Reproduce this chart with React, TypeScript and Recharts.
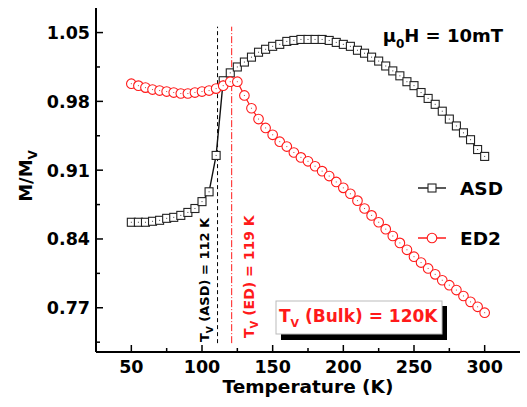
import { LineChart, Line, XAxis, YAxis, ReferenceLine } from "recharts";

const temps = [
  50, 55, 60, 65, 70, 75, 80, 85, 90, 95, 100, 105, 110, 115, 120, 125, 130,
  135, 140, 145, 150, 155, 160, 165, 170, 175, 180, 185, 190, 195, 200, 205,
  210, 215, 220, 225, 230, 235, 240, 245, 250, 255, 260, 265, 270, 275, 280,
  285, 290, 295, 300,
];

const asd = [
  0.857, 0.857, 0.857, 0.858, 0.859, 0.861, 0.862, 0.864, 0.867, 0.871, 0.878,
  0.888, 0.925, 1.001, 1.009, 1.015, 1.02, 1.025, 1.03, 1.033, 1.036, 1.038,
  1.041, 1.042, 1.043, 1.043, 1.043, 1.043, 1.042, 1.04, 1.038, 1.036, 1.032,
  1.029, 1.025, 1.021, 1.016, 1.011, 1.006, 1.0, 0.996, 0.989, 0.983, 0.977,
  0.97, 0.962, 0.955, 0.948, 0.941, 0.931, 0.924,
];

const ed2 = [
  0.998, 0.996, 0.994, 0.992, 0.991, 0.99, 0.989, 0.988, 0.988, 0.989, 0.99,
  0.991, 0.993, 0.996, 1.0, 1.0, 0.986, 0.973, 0.962, 0.953, 0.946, 0.939,
  0.934, 0.928, 0.923, 0.919, 0.914, 0.909, 0.904, 0.898, 0.892, 0.886, 0.879,
  0.871, 0.864, 0.857, 0.85, 0.843, 0.836, 0.829, 0.822, 0.816, 0.81, 0.804,
  0.798, 0.793, 0.788, 0.782, 0.776, 0.771, 0.765,
];

const xTicks = [50, 75, 100, 125, 150, 175, 200, 225, 250, 275, 300];
const xMajor = [50, 100, 150, 200, 250, 300];
const yTicks = [0.735, 0.77, 0.805, 0.84, 0.875, 0.91, 0.945, 0.98, 1.015, 1.05];
const yMajor = [0.77, 0.84, 0.91, 0.98, 1.05];

// transition markers (position)
const tvAsd = 111;
const tvEd = 121;
const markerSpan = [0.734, 1.056];

const data = temps.map((t, i) => ({ t, asd: asd[i], ed2: ed2[i] }));

const FONT = "DejaVu Sans";
const RED = "#ff1a1a";

const isMajor = (list: number[], v: number) =>
  list.some(m => Math.abs(m - v) < 1e-6);

function BottomTick(props: any) {
  const { x, y, payload } = props;
  const major = isMajor(xMajor, payload.value);
  return (
    <g>
      <line x1={x} x2={x} y1={y} y2={y - (major ? 7 : 4)} stroke="#000" strokeWidth={1.5} />
      {major && (
        <text x={x} y={y + 21} textAnchor="middle" fontFamily={FONT} fontWeight="bold" fontSize={17.5} fill="#000">
          {payload.value}
        </text>
      )}
    </g>
  );
}

function TopTick(props: any) {
  const { x, y, payload } = props;
  const major = isMajor(xMajor, payload.value);
  return <line x1={x} x2={x} y1={y} y2={y + (major ? 7 : 4)} stroke="#000" strokeWidth={1.5} />;
}

function LeftTick(props: any) {
  const { x, y, payload } = props;
  const major = isMajor(yMajor, payload.value);
  return (
    <g>
      <line x1={x} x2={x + (major ? 7 : 4)} y1={y} y2={y} stroke="#000" strokeWidth={1.5} />
      {major && (
        <text x={x - 6} y={y} dy={6.5} textAnchor="end" fontFamily={FONT} fontWeight="bold" fontSize={17.5} fill="#000">
          {payload.value.toFixed(2)}
        </text>
      )}
    </g>
  );
}

function RightTick(props: any) {
  const { x, y, payload } = props;
  const major = isMajor(yMajor, payload.value);
  return <line x1={x} x2={x - (major ? 7 : 4)} y1={y} y2={y} stroke="#000" strokeWidth={1.5} />;
}

function SquareDot(props: any) {
  const { cx, cy, index } = props;
  return (
    <g key={"s" + index}>
      <rect x={cx - 4} y={cy - 4} width={8} height={8} fill="#fff" stroke="#222" strokeWidth={1.1} />
      <rect x={cx - 0.5} y={cy - 0.5} width={1} height={1} fill="#444" />
    </g>
  );
}

function CircleDot(props: any) {
  const { cx, cy, index } = props;
  return (
    <g key={"c" + index}>
      <circle cx={cx} cy={cy} r={4.8} fill="#fff" stroke={RED} strokeWidth={1.1} />
      <rect x={cx - 0.5} y={cy - 0.5} width={1} height={1} fill="#c44" />
    </g>
  );
}

function Overlay() {
  return (
    <svg
      width={527}
      height={407}
      style={{ position: "absolute", left: 0, top: 0, pointerEvents: "none" }}
      fontFamily={FONT}
      fontWeight="bold"
    >
      {/* axis titles */}
      <text x={308} y={393} textAnchor="middle" fontSize={18.5} fill="#000">
        Temperature (K)
      </text>
      <text transform="translate(32,176) rotate(-90)" textAnchor="middle" fontSize={18} fill="#000">
        M/M<tspan fontSize={12} dy={5}>V</tspan>
      </text>

      {/* field */}
      <text x={503} y={42} textAnchor="end" fontSize={18} fill="#000">
        μ<tspan fontSize={12} dy={6}>0</tspan>
        <tspan dy={-6}>H = 10mT</tspan>
      </text>

      {/* legend */}
      <line x1={418} x2={446} y1={188} y2={188} stroke="#222" strokeWidth={1.5} />
      <rect x={428} y={184} width={8} height={8} fill="#fff" stroke="#222" strokeWidth={1.1} />
      <text x={460} y={195} fontSize={18.5} fill="#000">ASD</text>
      <line x1={418} x2={446} y1={238} y2={238} stroke={RED} strokeWidth={1.5} />
      <circle cx={432} cy={238} r={4.8} fill="#fff" stroke={RED} strokeWidth={1.1} />
      <text x={460} y={245} fontSize={18.5} fill="#000">ED2</text>

      {/* rotated transition labels */}
      <text transform="translate(209,342) rotate(-90)" fontSize={13} fill="#000">
        T<tspan fontSize={9} dy={4}>V</tspan>
        <tspan dy={-4}> (ASD) = 112 K</tspan>
      </text>
      <text transform="translate(254,338) rotate(-90)" fontSize={14} fill={RED}>
        T<tspan fontSize={10} dy={4}>V</tspan>
        <tspan dy={-4}> (ED) = 119 K</tspan>
      </text>

      {/* bulk box */}
      <rect x={281} y={306} width={166} height={34} fill="#000" />
      <rect x={276} y={301} width={166} height={33} fill="#fff" stroke="#bbb" strokeWidth={1} />
      <text x={279} y={322} fontSize={17} fill={RED}>
        T<tspan fontSize={11} dy={5}>V</tspan>
        <tspan dy={-5}> (Bulk) = 120K</tspan>
      </text>
    </svg>
  );
}

export default function App() {
  return (
    <div style={{ position: "absolute", left: 0, top: 0, width: 527, height: 407, background: "#fff" }}>
      <LineChart
        width={527}
        height={407}
        data={data}
        margin={{ top: 8, right: 7, bottom: 0, left: 0 }}
      >
        <XAxis
          dataKey="t"
          type="number"
          domain={[25, 325]}
          ticks={xTicks}
          interval={0}
          height={55}
          tickSize={0}
          tickMargin={0}
          tickLine={false}
          tick={<BottomTick />}
          axisLine={{ stroke: "#000", strokeWidth: 2 }}
          allowDataOverflow
        />
        <XAxis
          xAxisId="top"
          orientation="top"
          dataKey="t"
          type="number"
          domain={[25, 325]}
          ticks={xTicks}
          interval={0}
          height={0}
          tickSize={0}
          tickMargin={0}
          tickLine={false}
          tick={<TopTick />}
          axisLine={{ stroke: "#000", strokeWidth: 2 }}
          allowDataOverflow
        />
        <YAxis
          type="number"
          domain={[0.725, 1.075]}
          ticks={yTicks}
          interval={0}
          width={96}
          tickSize={0}
          tickMargin={0}
          tickLine={false}
          tick={<LeftTick />}
          axisLine={{ stroke: "#000", strokeWidth: 2 }}
          allowDataOverflow
        />
        <YAxis
          yAxisId="right"
          orientation="right"
          type="number"
          domain={[0.725, 1.075]}
          ticks={yTicks}
          interval={0}
          width={0}
          tickSize={0}
          tickMargin={0}
          tickLine={false}
          tick={<RightTick />}
          axisLine={{ stroke: "#000", strokeWidth: 2 }}
          allowDataOverflow
        />
        <ReferenceLine
          segment={[{ x: tvAsd, y: markerSpan[0] }, { x: tvAsd, y: markerSpan[1] }]}
          stroke="#000"
          strokeWidth={1}
          strokeDasharray="4 3"
        />
        <ReferenceLine
          segment={[{ x: tvEd, y: markerSpan[0] }, { x: tvEd, y: markerSpan[1] }]}
          stroke={RED}
          strokeWidth={1}
          strokeDasharray="7 2 1 2"
        />
        <Line
          dataKey="asd"
          stroke="#111"
          strokeWidth={1.4}
          dot={SquareDot}
          isAnimationActive={false}
        />
        <Line
          dataKey="ed2"
          stroke={RED}
          strokeWidth={1.2}
          dot={CircleDot}
          isAnimationActive={false}
        />
      </LineChart>
      <Overlay />
    </div>
  );
}
